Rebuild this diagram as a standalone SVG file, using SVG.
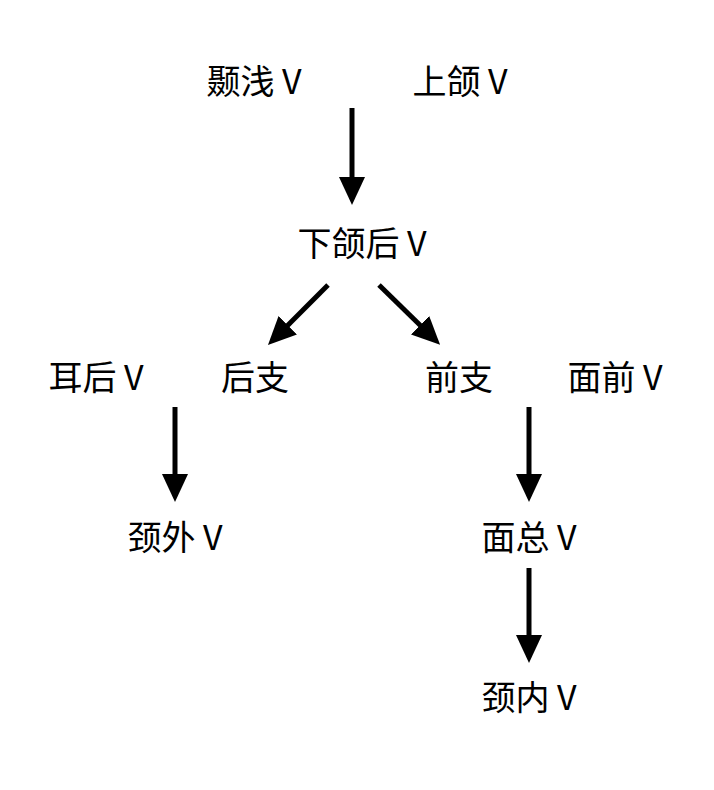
<svg xmlns="http://www.w3.org/2000/svg" width="714" height="790" viewBox="0 0 714 790">
<style>
text{font-family:"Noto Sans CJK SC","Noto Sans",sans-serif;font-size:34px;fill:#000;text-anchor:middle}
.c{stroke:#000;stroke-width:5;fill:none}
</style>
<defs>
<marker id="ah" markerUnits="userSpaceOnUse" markerWidth="28" markerHeight="28" viewBox="0 0 28 28" refX="8" refY="14" orient="auto">
<path d="M0,1 L28,14 L0,27 Z" fill="#000"/>
</marker>
</defs>
<rect width="714" height="790" fill="#fff"/>
<g id="connectors">
<line class="c" x1="352" y1="108" x2="352" y2="185" marker-end="url(#ah)"/>
<line class="c" x1="328" y1="285" x2="282.1" y2="330.9" marker-end="url(#ah)"/>
<line class="c" x1="379" y1="285" x2="425.8" y2="330.8" marker-end="url(#ah)"/>
<line class="c" x1="175" y1="407" x2="175" y2="482" marker-end="url(#ah)"/>
<line class="c" x1="529" y1="407" x2="529" y2="482" marker-end="url(#ah)"/>
<line class="c" x1="529" y1="568" x2="529" y2="643" marker-end="url(#ah)"/>
</g>
<g id="n1"><text x="254" y="94">颞浅 V</text></g>
<g id="n2"><text x="460" y="94">上颌 V</text></g>
<g id="n3"><text x="362" y="256">下颌后 V</text></g>
<g id="n4"><text x="96" y="390">耳后 V</text></g>
<g id="n5"><text x="255" y="390">后支</text></g>
<g id="n6"><text x="459" y="390">前支</text></g>
<g id="n7"><text x="615" y="390">面前 V</text></g>
<g id="n8"><text x="175" y="550">颈外 V</text></g>
<g id="n9"><text x="529" y="550">面总 V</text></g>
<g id="n10"><text x="529" y="710">颈内 V</text></g>
</svg>
